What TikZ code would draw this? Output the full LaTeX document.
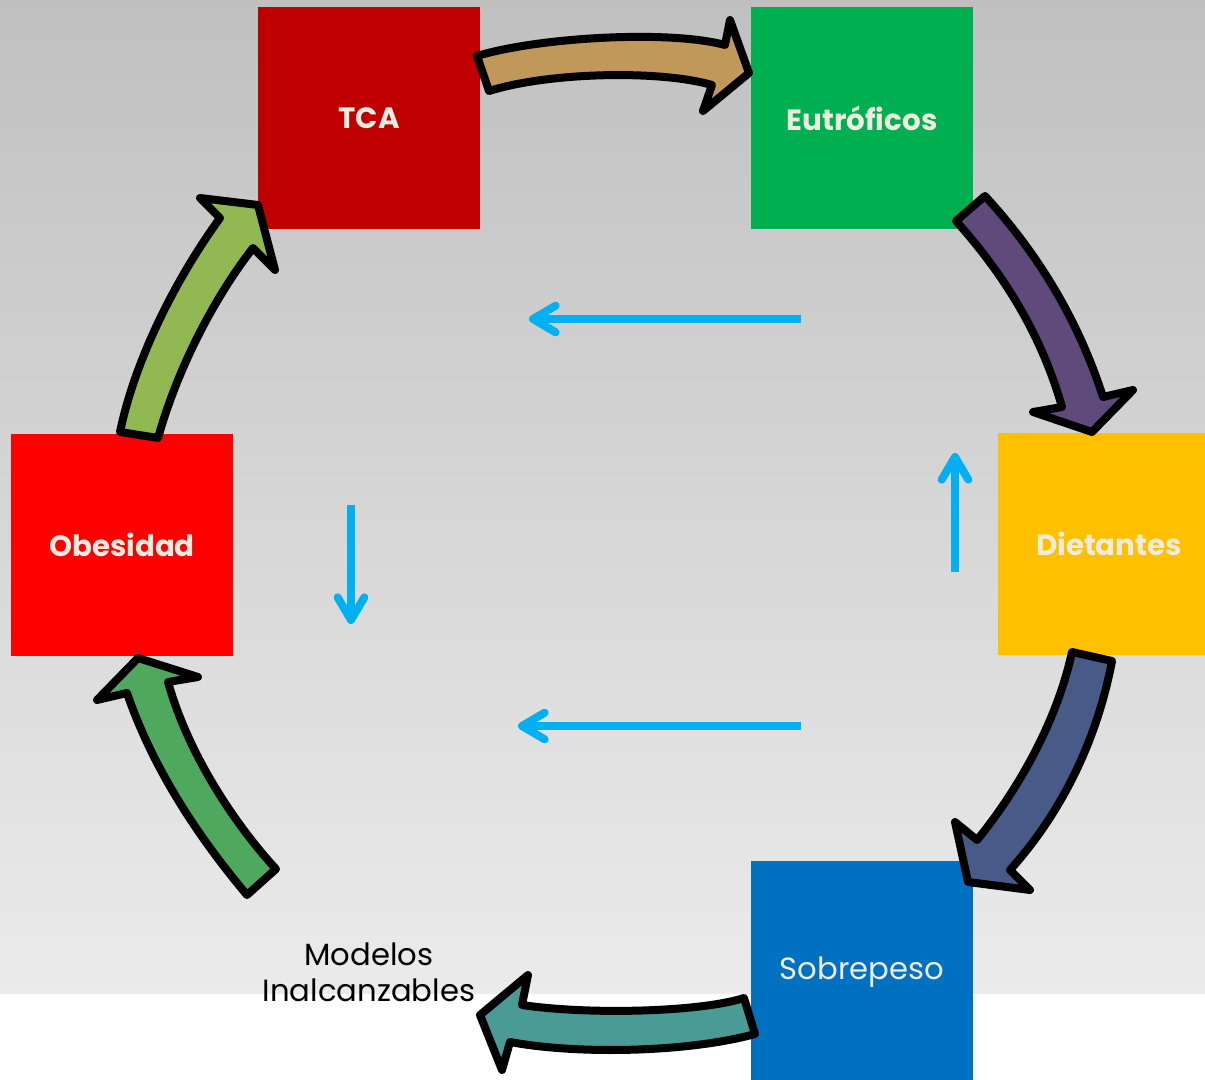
\documentclass[tikz,border=0pt]{standalone}
\usepackage{fontspec}
\setmainfont{Poppins}
\usetikzlibrary{arrows.meta}
\definecolor{bgtop}{HTML}{C0C0C0}
\definecolor{bgbot}{HTML}{EBEBEB}
\definecolor{ctca}{HTML}{C00000}
\definecolor{ceut}{HTML}{00B050}
\definecolor{cdie}{HTML}{FFC000}
\definecolor{csob}{HTML}{0070C0}
\definecolor{cobe}{HTML}{FF0000}
\definecolor{txtc}{HTML}{EEECE1}
\definecolor{atan}{HTML}{C0985A}
\definecolor{apur}{HTML}{604A7B}
\definecolor{ablu}{HTML}{475A88}
\definecolor{ateal}{HTML}{4A9A96}
\definecolor{agreen}{HTML}{4EA85D}
\definecolor{alight}{HTML}{92B853}
\definecolor{cyanb}{HTML}{00B0F0}
\tikzset{
  box/.style={rectangle, draw=none, minimum width=166.5pt, minimum height=166.5pt, inner sep=0pt, text=txtc},
  boldtxt/.style={font=\bfseries\fontsize{22}{26}\selectfont},
  regtxt/.style={font=\fontsize{23}{27}\selectfont},
  blockarrow/.style={draw=black, line width=6pt, line join=round},
  bluearrow/.style={draw=cyanb, line width=6pt, -{Straight Barb[length=17pt,width=20pt,round]}}
}
\begin{document}
\begin{tikzpicture}[x=0.75pt,y=-0.75pt]
\clip (0,0) rectangle (1205,1080);
\fill[white] (0,0) rectangle (1205,1080);
\shade[top color=bgtop, bottom color=bgbot] (0,0) rectangle (1205,993);

% boxes
\node[box, fill=ctca, boldtxt] (tca) at (369,118) {TCA};
\node[box, fill=ceut, boldtxt] (eut) at (862,118) {Eutróficos};
\node[box, fill=cdie, boldtxt] (die) at (1109,544) {Dietantes};
\node[box, fill=csob, regtxt] (sob) at (862,972) {Sobrepeso};
\node[box, fill=cobe, boldtxt] (obe) at (122,545) {Obesidad};
\node[align=center, font=\fontsize{23}{27}\selectfont, text=black, inner sep=0pt] (mod) at (369,972) {Modelos\\Inalcanzables};

% curved block arrows
\draw[blockarrow, fill=atan] (477,56) .. controls (540,37) and (670,30) .. (725,45) -- (730,20) -- (749,73) -- (703,111) -- (712,85) .. controls (660,70) and (550,72) .. (489,91) -- cycle;
\draw[blockarrow, fill=apur] (985,196) .. controls (1030,245) and (1075,310) .. (1103,397) -- (1133,390) -- (1092,432) -- (1033,412) -- (1062,407) .. controls (1040,330) and (1000,270) .. (956,221) -- cycle;
\draw[blockarrow, fill=ablu] (1112,661) .. controls (1095,750) and (1055,820) .. (1010,870) -- (1030,890) -- (968,882) -- (955,822) -- (977,840) .. controls (1010,800) and (1055,730) .. (1072,652) -- cycle;
\draw[blockarrow, fill=ateal] (744,998) .. controls (700,1012) and (590,1015) .. (522,1005) -- (528,975) -- (480,1015) -- (502,1070) -- (510,1042) .. controls (580,1055) and (690,1052) .. (755,1034) -- cycle;
\draw[blockarrow, fill=agreen] (276,869) .. controls (240,830) and (190,760) .. (168,682) -- (198,677) -- (138,658) -- (97,700) -- (127,693) .. controls (155,775) and (205,845) .. (247,895) -- cycle;
\draw[blockarrow, fill=alight] (120,432) .. controls (135,360) and (175,280) .. (220,218) -- (200,198) -- (258,205) -- (275,270) -- (253,248) .. controls (220,290) and (180,360) .. (158,438) -- cycle;

% blue arrows
\coordinate (b1s) at (801,319); \coordinate (b1e) at (529,319);
\coordinate (b2s) at (955,572); \coordinate (b2e) at (955,453);
\coordinate (b3s) at (351,505); \coordinate (b3e) at (351,624);
\coordinate (b4s) at (801,726); \coordinate (b4e) at (518,726);
\draw[bluearrow] (b1s) -- (b1e);
\draw[bluearrow] (b2s) -- (b2e);
\draw[bluearrow] (b3s) -- (b3e);
\draw[bluearrow] (b4s) -- (b4e);
\end{tikzpicture}
\end{document}
